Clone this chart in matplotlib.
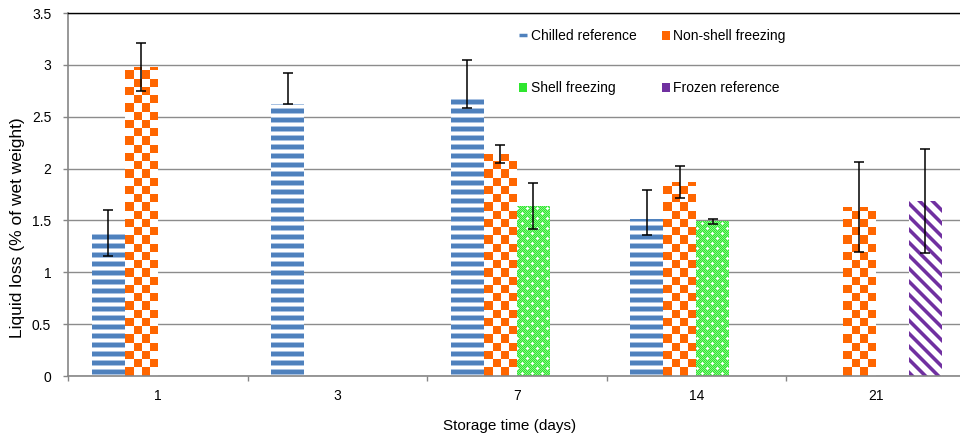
import numpy as np
import matplotlib
matplotlib.use("Agg")
import matplotlib.pyplot as plt
from matplotlib.colors import to_rgb
from matplotlib.patches import Patch
from matplotlib.lines import Line2D

plt.rcParams['font.family'] = ['Liberation Sans', 'DejaVu Sans']

# ---- data -------------------------------------------------------------
days = ["1", "3", "7", "14", "21"]
series_names = ["Chilled reference", "Non-shell freezing",
                "Shell freezing", "Frozen reference"]

chilled = [1.38, 2.62, 2.67, 1.51, 0.0]
chilled_err_low = [0.22, 0.0, 0.09, 0.15, np.nan]
chilled_err_high = [0.22, 0.30, 0.38, 0.28, np.nan]

non_shell = [2.98, 0.0, 2.14, 1.87, 1.63]
non_shell_err = [0.23, np.nan, 0.09, 0.15, 0.43]

shell = [0.0, 0.0, 1.64, 1.49, 0.0]
shell_err = [np.nan, np.nan, 0.22, 0.02, np.nan]

frozen = [0.0, 0.0, 0.0, 0.0, 1.69]
frozen_err = [np.nan, np.nan, np.nan, np.nan, 0.50]

y_ticks = [0, 0.5, 1, 1.5, 2, 2.5, 3, 3.5]
y_tick_labels = ["0", "0.5", "1", "1.5", "2", "2.5", "3", "3.5"]

# ---- colours ----------------------------------------------------------
BLUE = to_rgb("#4F81BD")
BLUE_SOFT = to_rgb("#A9C2E2")
ORANGE = to_rgb("#FF6600")
GREEN_A = to_rgb("#2FE62F")
GREEN_B = to_rgb("#86F486")
PURPLE = to_rgb("#7030A0")
PURPLE_SOFT = to_rgb("#B48FCF")
WHITE = (1.0, 1.0, 1.0)
GRID = "#8C8C8C"
AXIS = "#868686"

# ---- figure / axes ----------------------------------------------------
W_PX, H_PX = 960, 440
fig = plt.figure(figsize=(W_PX / 100, H_PX / 100), dpi=100)
ax_left, ax_right, ax_top, ax_bottom = 68.0, 965.5, 13.0, 376.0
ax = fig.add_axes([ax_left / W_PX, 1 - ax_bottom / H_PX,
                   (ax_right - ax_left) / W_PX, (ax_bottom - ax_top) / H_PX])
ax.set_xlim(-0.5, len(days) - 0.5)
ax.set_ylim(0, 3.5)

x = np.arange(len(days))
bar_w = 0.184
offsets = np.array([-1.5, -0.5, 0.5, 1.5]) * bar_w
values = [chilled, non_shell, shell, frozen]


# ---- pattern fills (computed in device pixels) -----------------------
def fill_stripes(xx, yy, x0, w):
    ph = (yy - 2) % 9
    img = np.ones(yy.shape + (3,))
    img[ph < 4] = BLUE
    img[(ph == 4) | (ph == 8)] = BLUE_SOFT
    return img


def fill_checker(xx, yy, x0, w):
    cell = w / 4.0
    ci = np.floor((xx - x0) / cell).astype(int)
    ri = np.floor(yy / cell).astype(int)
    img = np.ones(yy.shape + (3,))
    img[(ci + ri) % 2 == 0] = ORANGE
    return img


PLUS_TILE = np.zeros((10, 10), dtype=bool)
for cy, cx in [(2, 2), (7, 7)]:
    PLUS_TILE[cy, cx] = True
    PLUS_TILE[cy - 1, cx] = PLUS_TILE[cy + 1, cx] = True
    PLUS_TILE[cy, cx - 1] = PLUS_TILE[cy, cx + 1] = True


def fill_confetti(xx, yy, x0, w):
    img = np.empty(yy.shape + (3,))
    img[:] = GREEN_A
    img[(xx + yy) % 2 == 0] = GREEN_B
    img[PLUS_TILE[yy % 10, xx % 10]] = WHITE
    return img


def fill_diagonal(xx, yy, x0, w):
    ph = (xx + yy) % 13
    img = np.ones(yy.shape + (3,))
    img[ph < 4] = PURPLE
    img[(ph == 4) | (ph == 12)] = PURPLE_SOFT
    return img


fills = [fill_stripes, fill_checker, fill_confetti, fill_diagonal]

inv = ax.transData.inverted()
base_px = ax.transData.transform((0, 0))[1]

for vals, off, fill in zip(values, offsets, fills):
    bars = ax.bar(x + off, vals, width=bar_w, color="white",
                  edgecolor="none", zorder=2)
    for bar in bars:
        if bar.get_height() <= 0:
            continue
        bb = bar.get_window_extent()
        px0, px1 = int(round(bb.x0)), int(round(bb.x1))
        py0, py1 = int(round(bb.y0)), int(round(bb.y1))
        X = np.arange(px0, px1)
        Y = np.arange(py0, py1)[::-1] - int(round(base_px))
        yy, xx = np.meshgrid(Y, X, indexing="ij")
        img = fill(xx, yy, px0, px1 - px0)
        xd0, yd0 = inv.transform((px0, py0))
        xd1, yd1 = inv.transform((px1, py1))
        ax.imshow(img, extent=(xd0, xd1, yd0, yd1), origin="upper",
                  interpolation="nearest", aspect="auto", zorder=2.1)

ax.set_xlim(-0.5, len(days) - 0.5)
ax.set_ylim(0, 3.5)

# ---- error bars -------------------------------------------------------
err_sets = [
    (chilled, chilled_err_low, chilled_err_high),
    (non_shell, non_shell_err, non_shell_err),
    (shell, shell_err, shell_err),
    (frozen, frozen_err, frozen_err),
]
for (vals, lo, hi), off in zip(err_sets, offsets):
    vals = np.asarray(vals)
    lo = np.asarray(lo, dtype=float)
    hi = np.asarray(hi, dtype=float)
    m = ~np.isnan(hi)
    ax.errorbar((x + off)[m], vals[m], yerr=[lo[m], hi[m]], fmt="none",
                ecolor="black", elinewidth=1.1, capsize=3.6, capthick=1.1,
                zorder=3)

# ---- axes styling -----------------------------------------------------
ax.set_axisbelow(True)
ax.yaxis.grid(True, color=GRID, linewidth=1.0)
ax.set_yticks(y_ticks, y_tick_labels)
ax.tick_params(axis="y", length=3.6, width=1, color=AXIS, pad=8.5,
               labelsize=10)

ax.set_xticks(np.arange(-0.5, len(days) + 0.5, 1.0))
ax.set_xticklabels([])
ax.set_xticks(x, days, minor=True)
ax.tick_params(axis="x", which="major", length=3.6, width=1, color=AXIS)
ax.tick_params(axis="x", which="minor", length=0, pad=9, labelsize=10)

for side in ("left", "bottom"):
    ax.spines[side].set_color(AXIS)
    ax.spines[side].set_linewidth(1.2)
ax.spines["top"].set_color("black")
ax.spines["top"].set_linewidth(1.0)
ax.spines["right"].set_visible(False)

fig.text(510 / W_PX, 1 - 426 / H_PX, "Storage time (days)",
         ha="center", va="center", fontsize=11)
fig.text(18 / W_PX, 1 - 228 / H_PX, "Liquid loss (% of wet weight)",
         rotation=90, ha="center", va="center", fontsize=12.5)

# ---- legend -----------------------------------------------------------
handles = {
    "Chilled reference": Line2D([], [], color=BLUE, linewidth=2.5,
                                solid_capstyle="butt"),
    "Non-shell freezing": Patch(facecolor=ORANGE, edgecolor="none"),
    "Shell freezing": Patch(facecolor=GREEN_A, edgecolor="none"),
    "Frozen reference": Patch(facecolor=PURPLE, edgecolor="none"),
}
order = [series_names[0], series_names[2], series_names[1], series_names[3]]
ax.legend([handles[n] for n in order], order, ncol=2, loc="upper left",
          bbox_to_anchor=(519 / W_PX, 1 - 29 / H_PX),
          bbox_transform=fig.transFigure, frameon=False, fontsize=10,
          borderpad=0, borderaxespad=0, handlelength=0.6, handleheight=0.6,
          handletextpad=0.25, columnspacing=1.8, labelspacing=2.75)

fig.savefig("out.png", dpi=100)
